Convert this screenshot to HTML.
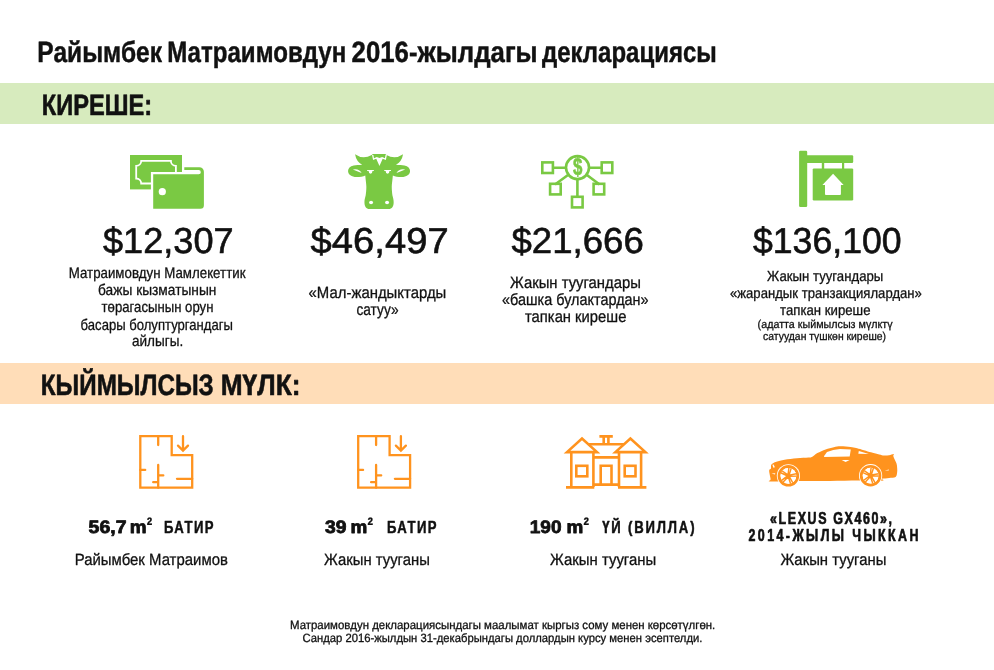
<!DOCTYPE html>
<html lang="ky">
<head>
<meta charset="utf-8">
<title>Райымбек Матраимовдун 2016-жылдагы декларациясы</title>
<style>
html,body{margin:0;padding:0;background:#fff;}
body{width:994px;height:670px;overflow:hidden;font-family:'Liberation Sans', sans-serif;}
svg{display:block;will-change:transform;}
svg text{font-family:"Liberation Sans", sans-serif;white-space:pre;}
</style>
</head>
<body>
<svg width="994" height="670" viewBox="0 0 994 670">
<rect x="0" y="0" width="994" height="670" fill="#ffffff"/>
<rect x="0" y="83" width="994" height="41" fill="#d7ebbe"/>
<rect x="0" y="363" width="994" height="41" fill="#ffddb8"/>
<g id="ic-wallet">
<rect x="130" y="155" width="52" height="34.4" fill="#7ac943"/>
<path d="M141.2,160.9 H170.9 A5,5 0 0 0 175.9,165.9 V178.5 A5,5 0 0 0 170.9,183.5 H141.2 A5,5 0 0 0 136.2,178.5 V165.9 A5,5 0 0 0 141.2,160.9 Z" fill="none" stroke="#fff" stroke-width="1.8"/>
<rect x="150.9" y="172" width="54" height="38" fill="#fff"/>
<path d="M153.2,174.3 V208.7 H200.4 A3.5,3.5 0 0 0 203.9,205.2 V171.7 A4.5,4.5 0 0 0 199.4,167.2 H184.3 V170.1 H198.7 A2.1,2.1 0 0 1 198.7,174.3 Z" fill="#7ac943"/>
<circle cx="162.3" cy="191.7" r="3.6" fill="#fff"/>
</g>
<g id="ic-cow" transform="translate(379.06 0)" fill="#7ac943">
<path d="M0.00,154.00 L-6.20,154.10 L-7.40,155.00 Q-16.00,159.80 -24.00,154.20 Q-22.80,161.60 -16.90,164.70 C-20.00,165.00 -23.00,164.90 -25.40,165.40 C-29.00,166.20 -31.00,168.20 -31.00,171.00 C-31.00,174.60 -27.50,177.00 -22.50,177.00 C-19.00,177.00 -16.00,176.30 -13.80,175.40 C-13.30,181.00 -12.70,184.00 -12.70,186.80 C-12.70,190.00 -13.00,193.00 -13.40,195.50 C-14.00,198.00 -14.70,200.00 -14.60,202.50 C-14.50,206.50 -13.00,209.00 -9.50,209.00 L0.00,209.00 L9.50,209.00 C13.00,209.00 14.50,206.50 14.60,202.50 C14.70,200.00 14.00,198.00 13.40,195.50 C13.00,193.00 12.70,190.00 12.70,186.80 C12.70,184.00 13.30,181.00 13.80,175.40 C16.00,176.30 19.00,177.00 22.50,177.00 C27.50,177.00 31.00,174.60 31.00,171.00 C31.00,168.20 29.00,166.20 25.40,165.40 C23.00,164.90 20.00,165.00 16.90,164.70 Q22.80,161.60 24.00,154.20 Q16.00,159.80 7.40,155.00 L6.20,154.10 L0.00,154.00 Z"/>
<g fill="#fff">
<path d="M-7.0,155.0 L-6.0,160.1 L-2.8,158.7 L0.4,165.9 L3.6,158.7 L6.8,160.1 L7.8,155.0 L6.5,155.0 L5.9,158.3 L3.1,157.0 L0.4,158.1 L-2.3,157.0 L-5.1,158.3 L-5.7,155.0 Z"/>
<path d="M-11.9,169.9 H-5.2 V171.1 H-6.6 A1.9,2.6 0 0 1 -10.4,171.1 H-11.9 Z"/>
<path d="M11.9,169.9 H5.2 V171.1 H6.6 A1.9,2.6 0 0 0 10.4,171.1 H11.9 Z"/>
<path d="M-26.2,169.6 Q-20.5,168.0 -17.4,172.9 Q-22,171.2 -26.2,169.6 Z"/>
<path d="M26.2,169.6 Q20.5,168.0 17.4,172.9 Q22,171.2 26.2,169.6 Z"/>
<ellipse cx="-8.0" cy="202.5" rx="2.0" ry="1.7"/>
<ellipse cx="8.0" cy="202.5" rx="2.0" ry="1.7"/>
</g>
</g>
<g id="ic-net" fill="none" stroke="#7ac943" stroke-width="2.6">
<circle cx="577.5" cy="167.6" r="11.5"/>
<rect x="542.30" y="162.40" width="10.6" height="10.6"/><rect x="601.70" y="162.40" width="10.6" height="10.6"/><rect x="550.10" y="183.80" width="10.6" height="10.6"/><rect x="593.60" y="183.80" width="10.6" height="10.6"/><rect x="572.00" y="196.80" width="10.6" height="10.6"/>
<path d="M552.8,167.7 H566.2 M588.8,167.7 H601.8 M577.4,178.9 V197 M568.0,175.0 L555.0,184.5 M586.9,175.0 L599.6,184.5"/>
</g>
<text transform="translate(572.9 175.4) skewX(0.03)" font-size="24.5" font-weight="700" fill="#7ac943" stroke="#7ac943" stroke-width="0.6" textLength="9.4" lengthAdjust="spacingAndGlyphs">$</text>
<g id="ic-sign" fill="#7ac943">
<rect x="799.1" y="150.8" width="8.1" height="56.1" rx="1.2"/>
<rect x="803" y="155.2" width="50.2" height="7.8" rx="1.2"/>
<rect x="821.8" y="162" width="2.4" height="7.4"/>
<rect x="842.0" y="162" width="2.2" height="7.4"/>
<rect x="812.7" y="168.4" width="40.5" height="32" rx="1.2"/>
<path d="M833.1,173.8 L843.6,185 H840.9 V194 A0.9,0.9 0 0 1 840,194.9 H825.9 A0.9,0.9 0 0 1 825,194 V185 H822.4 Z" fill="#fff"/>
</g>
<g id="ic-floor1"><g transform="translate(0 0)" fill="none" stroke="#ff931e" stroke-width="2.3" stroke-linecap="round">
<path d="M140.3,436.1 H171.7 V455.1 H192.2 V487.7 H140.3 Z" stroke-linecap="butt"/>
<path d="M158.2,436.1 V445.0 M158.2,465.0 V487.7 M140.3,469.9 H145.2 M158.2,475.4 H163.3 M153.2,482.2 H158.2 M177.0,478.8 H192.2 M183.0,436.2 V449.8 M178.0,445.6 L183.0,450.6 L188.0,445.6"/>
</g></g>
<g id="ic-floor2"><g transform="translate(217.9 0)" fill="none" stroke="#ff931e" stroke-width="2.3" stroke-linecap="round">
<path d="M140.3,436.1 H171.7 V455.1 H192.2 V487.7 H140.3 Z" stroke-linecap="butt"/>
<path d="M158.2,436.1 V445.0 M158.2,465.0 V487.7 M140.3,469.9 H145.2 M158.2,475.4 H163.3 M153.2,482.2 H158.2 M177.0,478.8 H192.2 M183.0,436.2 V449.8 M178.0,445.6 L183.0,450.6 L188.0,445.6"/>
</g></g>
<g id="ic-villa" fill="none" stroke="#ff931e" stroke-width="2.6" stroke-linejoin="miter">
<path d="M567.0,452.1 L582.0,438.6 L597.0,452.1 Z"/>
<path d="M615.4,452.1 L630.4,438.6 L645.4,452.1 Z"/>
<path d="M571.3,453 V487 M593.4,453 V487 M619.0,453 V487 M641.1,453 V487"/>
<path d="M566,487.4 H594.3 M618,487.4 H646.4"/>
<path d="M588.5,444.3 H624 M593.4,457.4 H619 M593.4,484.6 H619"/>
<path d="M599.4,436.4 H612.8 M603.7,437 V444 M608.4,437 V444"/>
<rect x="576.3" y="465.8" width="11.0" height="10.5"/>
<rect x="624.7" y="465.8" width="10.8" height="10.5"/>
<path d="M600.7,484.6 V465.8 H611.5 V484.6"/>
</g>
<g id="ic-car">
<path d="M769.00,481.20 C768.03,480.85 770.47,480.43 770.60,479.40 C770.73,478.37 770.03,476.53 769.80,475.00 C769.57,473.47 769.00,471.27 769.20,470.20 C769.40,469.13 770.63,469.57 771.00,468.60 C771.37,467.63 770.50,465.55 771.40,464.40 C772.30,463.25 774.20,462.48 776.40,461.70 C778.60,460.92 781.18,460.28 784.60,459.70 C788.02,459.12 792.93,458.57 796.90,458.20 C800.87,457.83 805.90,457.70 808.40,457.50 C810.90,457.30 810.40,457.73 811.90,457.00 C813.40,456.27 815.12,454.37 817.40,453.10 C819.68,451.83 822.87,450.38 825.60,449.40 C828.33,448.42 831.32,447.72 833.80,447.20 C836.28,446.68 837.72,446.33 840.50,446.30 C843.28,446.27 847.73,446.68 850.50,447.00 C853.27,447.32 853.68,447.32 857.10,448.20 C860.52,449.08 867.32,451.23 871.00,452.30 C874.68,453.37 877.02,454.05 879.20,454.60 C881.38,455.15 882.45,455.50 884.10,455.60 C885.75,455.70 887.50,455.47 889.10,455.20 C890.70,454.93 893.00,453.87 893.70,454.00 C894.40,454.13 893.12,455.05 893.30,456.00 C893.48,456.95 894.25,458.40 894.80,459.70 C895.35,461.00 896.20,462.33 896.60,463.80 C897.00,465.27 897.12,467.00 897.20,468.50 C897.28,470.00 897.37,471.40 897.10,472.80 C896.83,474.20 896.93,476.05 895.60,476.90 C894.27,477.75 891.37,477.58 889.10,477.90 C886.83,478.22 883.18,478.32 882.00,478.80 C880.82,479.28 885.95,480.50 882.00,480.80 C878.05,481.10 866.97,480.58 858.30,480.60 C849.63,480.62 839.62,480.83 830.00,480.90 C820.38,480.97 809.53,480.90 800.60,481.00 C791.67,481.10 781.67,481.47 776.40,481.50 C771.13,481.53 769.97,481.55 769.00,481.20 Z" fill="#ff931e"/>
<path d="M823.4,456.9 L827.0,452.0 Q833,449.2 840,448.9 L850.8,449.5 L849.7,456.5 Z" fill="#fff"/>
<path d="M817.6,456.9 L818.0,454.6 L823.6,453.6 L824.2,456.9 Z" fill="#ff931e"/>
<path d="M858.8,451.0 L868.8,454.0 L858.3,453.8 Z" fill="#fff"/>
<path d="M841.6,460.1 L849.6,460.1 L845.6,461.9 Z" fill="#fff"/>
<path d="M772.4,464.8 L773.6,464.4 L774.9,467.3 L773.4,467.8 Z" fill="#fff"/>
<path d="M771.5,473.4 L775.3,473.3 L774.9,474.4 Z" fill="#fff"/>
<path d="M884.8,470.6 L889.0,469.6 L888.6,470.5 Z" fill="#fff"/>
<circle cx="788.4" cy="475.8" r="11.6" fill="#fff"/><circle cx="788.4" cy="475.8" r="9.3" fill="none" stroke="#ff931e" stroke-width="2.9"/><circle cx="788.4" cy="475.8" r="7.9" fill="#fff"/><path d="M788.08,474.64 L788.94,467.62 M789.16,474.87 L791.24,468.11 M789.40,475.14 L796.35,473.78 M789.52,476.24 L796.59,476.12 M789.34,476.55 L792.78,482.73 M788.33,477.00 L790.63,483.69 M787.98,476.92 L783.16,482.10 M787.24,476.10 L781.58,480.36 M787.20,475.75 L780.78,472.76 M787.76,474.79 L781.96,470.72 " stroke="#ff931e" stroke-width="1.45" fill="none"/><circle cx="788.4" cy="475.8" r="2.3" fill="#ff931e"/>
<circle cx="870.6" cy="475.7" r="11.6" fill="#fff"/><circle cx="870.6" cy="475.7" r="9.3" fill="none" stroke="#ff931e" stroke-width="2.9"/><circle cx="870.6" cy="475.7" r="7.9" fill="#fff"/><path d="M870.28,474.54 L871.14,467.52 M871.36,474.77 L873.44,468.01 M871.60,475.04 L878.55,473.68 M871.72,476.14 L878.79,476.02 M871.54,476.45 L874.98,482.63 M870.53,476.90 L872.83,483.59 M870.18,476.82 L865.36,482.00 M869.44,476.00 L863.78,480.26 M869.40,475.65 L862.98,472.66 M869.96,474.69 L864.16,470.62 " stroke="#ff931e" stroke-width="1.45" fill="none"/><circle cx="870.6" cy="475.7" r="2.3" fill="#ff931e"/>
</g>
<text transform="translate(37.36 62) skewX(0.03)" font-size="29.4" font-weight="700" fill="#111111" stroke="#111111" stroke-width="0.45" stroke-linejoin="round" textLength="124.64" lengthAdjust="spacingAndGlyphs">Райымбек</text>
<text transform="translate(167.20 62) skewX(0.03)" font-size="29.4" font-weight="700" fill="#111111" stroke="#111111" stroke-width="0.45" stroke-linejoin="round" textLength="179.02" lengthAdjust="spacingAndGlyphs">Матраимовдун</text>
<text transform="translate(351.54 62) skewX(0.03)" font-size="29.4" font-weight="700" fill="#111111" stroke="#111111" stroke-width="0.45" stroke-linejoin="round" textLength="186.10" lengthAdjust="spacingAndGlyphs">2016-жылдагы</text>
<text transform="translate(542.00 62) skewX(0.03)" font-size="29.4" font-weight="700" fill="#111111" stroke="#111111" stroke-width="0.45" stroke-linejoin="round" textLength="174.76" lengthAdjust="spacingAndGlyphs">декларациясы</text>
<text transform="translate(41.70 115) skewX(0.03)" font-size="29.4" font-weight="700" fill="#111111" stroke="#111111" stroke-width="0.6" stroke-linejoin="round" textLength="110.44" lengthAdjust="spacingAndGlyphs">КИРЕШЕ:</text>
<text transform="translate(40.82 395) skewX(0.03)" font-size="29.4" font-weight="700" fill="#111111" stroke="#111111" stroke-width="0.6" stroke-linejoin="round" textLength="172.90" lengthAdjust="spacingAndGlyphs">КЫЙМЫЛСЫЗ</text>
<text transform="translate(220.74 395) skewX(0.03)" font-size="29.4" font-weight="700" fill="#111111" stroke="#111111" stroke-width="0.6" stroke-linejoin="round" textLength="79.66" lengthAdjust="spacingAndGlyphs">МҮЛК:</text>
<text transform="translate(102.96 253) skewX(0.03)" font-size="36.0" font-weight="400" fill="#111111" stroke="#111111" stroke-width="0.6" stroke-linejoin="round" textLength="130.64" lengthAdjust="spacingAndGlyphs">$12,307</text>
<text transform="translate(310.58 253) skewX(0.03)" font-size="36.0" font-weight="400" fill="#111111" stroke="#111111" stroke-width="0.6" stroke-linejoin="round" textLength="138.06" lengthAdjust="spacingAndGlyphs">$46,497</text>
<text transform="translate(511.46 253) skewX(0.03)" font-size="36.0" font-weight="400" fill="#111111" stroke="#111111" stroke-width="0.6" stroke-linejoin="round" textLength="132.34" lengthAdjust="spacingAndGlyphs">$21,666</text>
<text transform="translate(752.96 253) skewX(0.03)" font-size="36.0" font-weight="400" fill="#111111" stroke="#111111" stroke-width="0.6" stroke-linejoin="round" textLength="148.72" lengthAdjust="spacingAndGlyphs">$136,100</text>
<text transform="translate(68.74 278) skewX(0.03)" font-size="15.4" font-weight="400" fill="#111111" stroke="#111111" stroke-width="0.3" stroke-linejoin="round" textLength="176.76" lengthAdjust="spacingAndGlyphs">Матраимовдун Мамлекеттик</text>
<text transform="translate(98.04 295) skewX(0.03)" font-size="15.4" font-weight="400" fill="#111111" stroke="#111111" stroke-width="0.3" stroke-linejoin="round" textLength="118.34" lengthAdjust="spacingAndGlyphs">бажы кызматынын</text>
<text transform="translate(101.58 312) skewX(0.03)" font-size="15.4" font-weight="400" fill="#111111" stroke="#111111" stroke-width="0.3" stroke-linejoin="round" textLength="111.88" lengthAdjust="spacingAndGlyphs">төрагасынын орун</text>
<text transform="translate(80.62 330) skewX(0.03)" font-size="15.4" font-weight="400" fill="#111111" stroke="#111111" stroke-width="0.3" stroke-linejoin="round" textLength="152.30" lengthAdjust="spacingAndGlyphs">басары болуптургандагы</text>
<text transform="translate(132.00 346) skewX(0.03)" font-size="15.4" font-weight="400" fill="#111111" stroke="#111111" stroke-width="0.3" stroke-linejoin="round" textLength="51.22" lengthAdjust="spacingAndGlyphs">айлыгы.</text>
<text transform="translate(308.58 298) skewX(0.03)" font-size="16.3" font-weight="400" fill="#111111" stroke="#111111" stroke-width="0.3" stroke-linejoin="round" textLength="137.76" lengthAdjust="spacingAndGlyphs">«Мал-жандыктарды</text>
<text transform="translate(356.46 315) skewX(0.03)" font-size="16.3" font-weight="400" fill="#111111" stroke="#111111" stroke-width="0.3" stroke-linejoin="round" textLength="42.04" lengthAdjust="spacingAndGlyphs">сатуу»</text>
<text transform="translate(510.00 288) skewX(0.03)" font-size="16.3" font-weight="400" fill="#111111" stroke="#111111" stroke-width="0.3" stroke-linejoin="round" textLength="130.96" lengthAdjust="spacingAndGlyphs">Жакын туугандары</text>
<text transform="translate(502.08 305) skewX(0.03)" font-size="16.3" font-weight="400" fill="#111111" stroke="#111111" stroke-width="0.3" stroke-linejoin="round" textLength="146.50" lengthAdjust="spacingAndGlyphs">«башка булактардан»</text>
<text transform="translate(525.00 322) skewX(0.03)" font-size="16.3" font-weight="400" fill="#111111" stroke="#111111" stroke-width="0.3" stroke-linejoin="round" textLength="101.38" lengthAdjust="spacingAndGlyphs">тапкан киреше</text>
<text transform="translate(767.12 281) skewX(0.03)" font-size="14.6" font-weight="400" fill="#111111" stroke="#111111" stroke-width="0.3" stroke-linejoin="round" textLength="116.22" lengthAdjust="spacingAndGlyphs">Жакын туугандары</text>
<text transform="translate(730.00 298) skewX(0.03)" font-size="14.6" font-weight="400" fill="#111111" stroke="#111111" stroke-width="0.3" stroke-linejoin="round" textLength="191.88" lengthAdjust="spacingAndGlyphs">«жарандык транзакциялардан»</text>
<text transform="translate(780.04 315) skewX(0.03)" font-size="14.6" font-weight="400" fill="#111111" stroke="#111111" stroke-width="0.3" stroke-linejoin="round" textLength="90.46" lengthAdjust="spacingAndGlyphs">тапкан киреше</text>
<text transform="translate(757.62 328) skewX(0.03)" font-size="11.4" font-weight="400" fill="#111111" stroke="#111111" stroke-width="0.3" stroke-linejoin="round" textLength="135.00" lengthAdjust="spacingAndGlyphs">(адатта кыймылсыз мүлктү</text>
<text transform="translate(763.12 340) skewX(0.03)" font-size="11.4" font-weight="400" fill="#111111" stroke="#111111" stroke-width="0.3" stroke-linejoin="round" textLength="122.88" lengthAdjust="spacingAndGlyphs">сатуудан түшкөн киреше)</text>
<text transform="translate(88.58 533) skewX(0.03)" font-size="18.0" font-weight="700" fill="#111111" stroke="#111111" stroke-width="0.8" stroke-linejoin="round" textLength="37.88" lengthAdjust="spacingAndGlyphs">56,7</text>
<text transform="translate(129.80 533) skewX(0.03)" font-size="18.0" font-weight="700" fill="#111111" stroke="#111111" stroke-width="0.8" stroke-linejoin="round" textLength="16.80" lengthAdjust="spacingAndGlyphs">m</text>
<text transform="translate(325.04 533) skewX(0.03)" font-size="18.0" font-weight="700" fill="#111111" stroke="#111111" stroke-width="0.8" stroke-linejoin="round" textLength="21.46" lengthAdjust="spacingAndGlyphs">39</text>
<text transform="translate(350.60 533) skewX(0.03)" font-size="18.0" font-weight="700" fill="#111111" stroke="#111111" stroke-width="0.8" stroke-linejoin="round" textLength="16.80" lengthAdjust="spacingAndGlyphs">m</text>
<text transform="translate(529.74 533) skewX(0.03)" font-size="18.0" font-weight="700" fill="#111111" stroke="#111111" stroke-width="0.8" stroke-linejoin="round" textLength="31.76" lengthAdjust="spacingAndGlyphs">190</text>
<text transform="translate(566.50 533) skewX(0.03)" font-size="18.0" font-weight="700" fill="#111111" stroke="#111111" stroke-width="0.8" stroke-linejoin="round" textLength="16.80" lengthAdjust="spacingAndGlyphs">m</text>
<text transform="translate(164.00 533) scale(0.82 1) skewX(0.03)" font-size="16.0" font-weight="700" fill="#111111" stroke="#111111" stroke-width="0.49" stroke-linejoin="round" textLength="60.32" lengthAdjust="spacing">БАТИР</text>
<text transform="translate(387.04 533) scale(0.82 1) skewX(0.03)" font-size="16.0" font-weight="700" fill="#111111" stroke="#111111" stroke-width="0.49" stroke-linejoin="round" textLength="60.27" lengthAdjust="spacing">БАТИР</text>
<text transform="translate(602.20 533) scale(0.82 1) skewX(0.03)" font-size="16.0" font-weight="700" fill="#111111" stroke="#111111" stroke-width="0.49" stroke-linejoin="round" textLength="112.61" lengthAdjust="spacing">ҮЙ (ВИЛЛА)</text>
<text transform="translate(770.04 524) scale(0.77 1) skewX(0.03)" font-size="16.2" font-weight="700" fill="#111111" stroke="#111111" stroke-width="0.65" stroke-linejoin="round" textLength="158.39" lengthAdjust="spacing">«LEXUS GX460»,</text>
<text transform="translate(748.50 541) scale(0.77 1) skewX(0.03)" font-size="16.2" font-weight="700" fill="#111111" stroke="#111111" stroke-width="0.65" stroke-linejoin="round" textLength="220.78" lengthAdjust="spacing">2014-ЖЫЛЫ ЧЫККАН</text>
<text transform="translate(146.80 532) skewX(0.03)" font-size="21" font-weight="700" fill="#111111" stroke="#111111" stroke-width="0.3" stroke-linejoin="round" textLength="5.50" lengthAdjust="spacingAndGlyphs">²</text>
<text transform="translate(367.60 532) skewX(0.03)" font-size="21" font-weight="700" fill="#111111" stroke="#111111" stroke-width="0.3" stroke-linejoin="round" textLength="5.50" lengthAdjust="spacingAndGlyphs">²</text>
<text transform="translate(583.50 532) skewX(0.03)" font-size="21" font-weight="700" fill="#111111" stroke="#111111" stroke-width="0.3" stroke-linejoin="round" textLength="5.50" lengthAdjust="spacingAndGlyphs">²</text>
<text transform="translate(74.74 565) skewX(0.03)" font-size="16.3" font-weight="400" fill="#111111" stroke="#111111" stroke-width="0.3" stroke-linejoin="round" textLength="153.14" lengthAdjust="spacingAndGlyphs">Райымбек Матраимов</text>
<text transform="translate(324.04 565) skewX(0.03)" font-size="16.3" font-weight="400" fill="#111111" stroke="#111111" stroke-width="0.3" stroke-linejoin="round" textLength="105.80" lengthAdjust="spacingAndGlyphs">Жакын тууганы</text>
<text transform="translate(550.04 565) skewX(0.03)" font-size="16.3" font-weight="400" fill="#111111" stroke="#111111" stroke-width="0.3" stroke-linejoin="round" textLength="106.22" lengthAdjust="spacingAndGlyphs">Жакын тууганы</text>
<text transform="translate(780.46 565) skewX(0.03)" font-size="16.3" font-weight="400" fill="#111111" stroke="#111111" stroke-width="0.3" stroke-linejoin="round" textLength="105.92" lengthAdjust="spacingAndGlyphs">Жакын тууганы</text>
<text transform="translate(290.00 629) skewX(0.03)" font-size="12.0" font-weight="400" fill="#111111" stroke="#111111" stroke-width="0.3" stroke-linejoin="round" textLength="425.26" lengthAdjust="spacingAndGlyphs">Матраимовдун декларациясындагы маалымат кыргыз сому менен көрсөтүлгөн.</text>
<text transform="translate(302.42 642) skewX(0.03)" font-size="12.0" font-weight="400" fill="#111111" stroke="#111111" stroke-width="0.3" stroke-linejoin="round" textLength="399.96" lengthAdjust="spacingAndGlyphs">Сандар 2016-жылдын 31-декабрындагы доллардын курсу менен эсептелди.</text>
</svg>
</body>
</html>
